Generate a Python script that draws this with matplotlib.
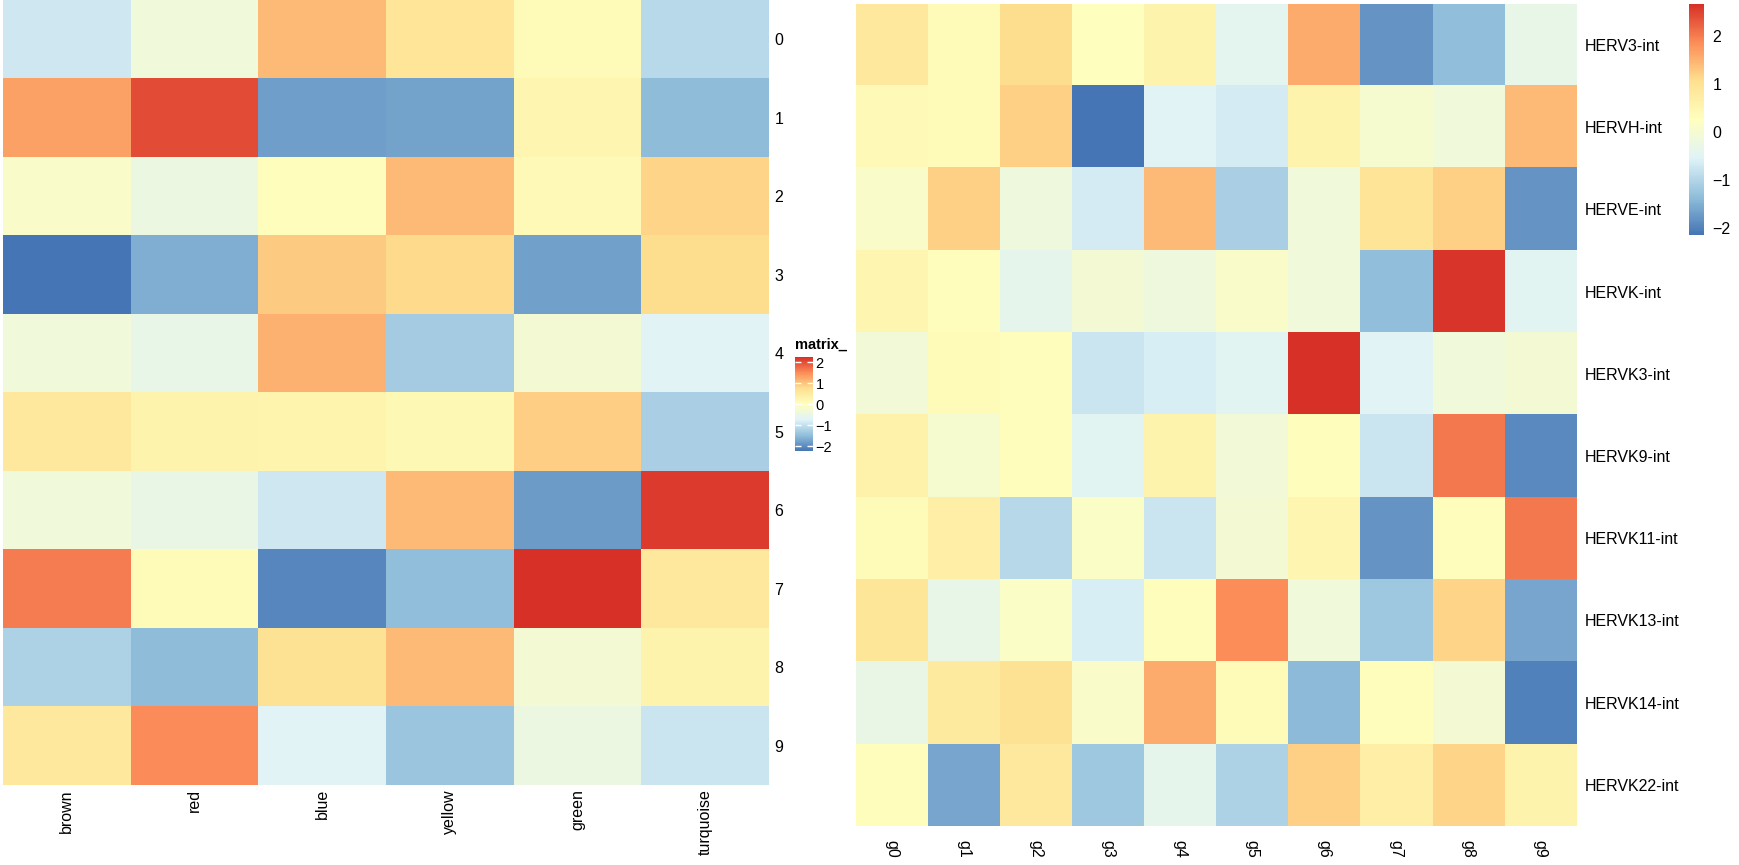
import numpy as np
import matplotlib.pyplot as plt
from matplotlib.colors import LinearSegmentedColormap

plt.rcParams['font.family'] = ['Liberation Sans', 'DejaVu Sans']

# left heatmap: modules x samples
left_cols = ["brown", "red", "blue", "yellow", "green", "turquoise"]
left_rows = ["0", "1", "2", "3", "4", "5", "6", "7", "8", "9"]
left_vals = np.array([
    [-0.88, -0.35, 1.08, 0.63, 0.10, -1.10],
    [1.30, 2.00, -1.80, -1.75, 0.23, -1.50],
    [-0.12, -0.44, 0.05, 1.08, 0.14, 0.86],
    [-2.22, -1.64, 0.95, 0.80, -1.78, 0.77],
    [-0.35, -0.52, 1.17, -1.28, -0.26, -0.70],
    [0.55, 0.28, 0.27, 0.15, 0.90, -1.24],
    [-0.35, -0.48, -0.88, 1.08, -1.82, 2.15],
    [1.62, 0.10, -2.04, -1.46, 2.24, 0.55],
    [-1.20, -1.50, 0.68, 1.08, -0.26, 0.28],
    [0.55, 1.50, -0.70, -1.37, -0.44, -0.92],
])

# right heatmap: HERV families x groups
right_cols = ["g0", "g1", "g2", "g3", "g4", "g5", "g6", "g7", "g8", "g9"]
right_rows = ["HERV3-int", "HERVH-int", "HERVE-int", "HERVK-int", "HERVK3-int",
              "HERVK9-int", "HERVK11-int", "HERVK13-int", "HERVK14-int", "HERVK22-int"]
right_vals = np.array([
    [0.84, 0.36, 1.08, 0.26, 0.55, -0.42, 1.56, -1.80, -1.33, -0.32],
    [0.40, 0.36, 1.22, -2.15, -0.50, -0.66, 0.55, 0.02, -0.13, 1.42],
    [0.12, 1.22, -0.17, -0.66, 1.42, -1.09, -0.13, 0.94, 1.22, -1.80],
    [0.50, 0.31, -0.37, -0.03, -0.17, 0.12, -0.13, -1.33, 2.62, -0.46],
    [-0.08, 0.36, 0.31, -0.75, -0.61, -0.46, 2.67, -0.51, -0.13, -0.03],
    [0.60, 0.02, 0.31, -0.46, 0.55, -0.08, 0.31, -0.75, 2.04, -1.91],
    [0.36, 0.69, -0.95, 0.16, -0.75, -0.03, 0.50, -1.80, 0.31, 2.04],
    [0.89, -0.32, 0.16, -0.61, 0.31, 1.85, -0.13, -1.19, 1.18, -1.62],
    [-0.27, 0.79, 0.98, 0.12, 1.56, 0.36, -1.38, 0.31, -0.03, -2.00],
    [0.31, -1.62, 0.84, -1.19, -0.37, -1.04, 1.22, 0.69, 1.18, 0.55],
])

palette = ["#4575B4", "#91BFDB", "#E0F3F8", "#FFFFBF", "#FEE090", "#FC8D59", "#D73027"]
cmap = LinearSegmentedColormap.from_list("rdylbu7", palette, N=256)

fig = plt.figure(figsize=(17.4, 8.65), dpi=100)

# ---- left heatmap
ax1 = fig.add_axes([0.0017, 0.0925, 0.4402, 0.9075])
im1 = ax1.imshow(left_vals, aspect='auto', cmap=cmap, vmin=left_vals.min(),
                 vmax=left_vals.max(), interpolation='nearest')
ax1.yaxis.tick_right()
ax1.set_yticks(range(len(left_rows)))
ax1.set_yticklabels(left_rows, fontsize=11.5)
ax1.set_xticks(range(len(left_cols)))
ax1.set_xticklabels(left_cols, rotation=90, fontsize=11.5, va='top')
ax1.tick_params(length=0)
ax1.tick_params(axis='y', pad=4)
ax1.tick_params(axis='x', pad=3)
for s in ax1.spines.values():
    s.set_visible(False)

cax1 = fig.add_axes([0.4569, 0.4786, 0.0103, 0.1087])
cb1 = fig.colorbar(im1, cax=cax1, ticks=[-2, -1, 0, 1, 2])
cb1.outline.set_visible(False)
cax1.tick_params(direction='in', color='white', length=4, width=1,
                 left=True, right=True, labelsize=10.5, pad=2)
fig.text(0.4569, 1 - 345 / 865, "matrix_", fontsize=10.5, fontweight='bold',
         ha='left', va='center')

# ---- right heatmap
ax2 = fig.add_axes([0.4920, 0.0451, 0.4138, 0.9503])
im2 = ax2.imshow(right_vals, aspect='auto', cmap=cmap, vmin=right_vals.min(),
                 vmax=right_vals.max(), interpolation='nearest')
ax2.yaxis.tick_right()
ax2.set_yticks(range(len(right_rows)))
ax2.set_yticklabels(right_rows, fontsize=11.5)
ax2.set_xticks(range(len(right_cols)))
ax2.set_xticklabels(right_cols, rotation=270, fontsize=11.5, va='top')
ax2.tick_params(length=0)
ax2.tick_params(axis='y', pad=6)
ax2.tick_params(axis='x', pad=10)
for s in ax2.spines.values():
    s.set_visible(False)

cax2 = fig.add_axes([0.9707, 0.7283, 0.0086, 0.267])
cb2 = fig.colorbar(im2, cax=cax2, ticks=[-2, -1, 0, 1, 2])
cb2.outline.set_visible(False)
cax2.tick_params(length=0, labelsize=11.5, pad=6)

fig.savefig("out.png", dpi=100)
